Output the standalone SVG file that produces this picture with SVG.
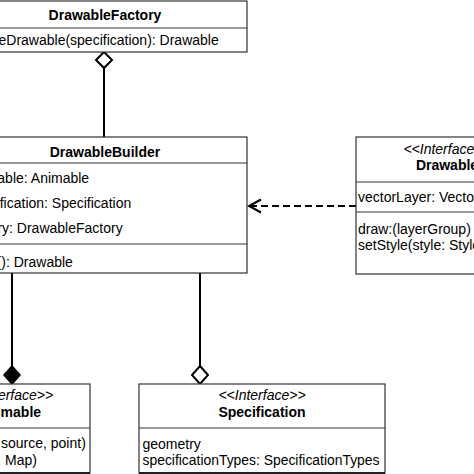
<svg xmlns="http://www.w3.org/2000/svg" width="474" height="474" viewBox="0 0 474 474">
<style>
.box{fill:#fff;stroke:#333;stroke-width:1.2}
.div{stroke:#333;stroke-width:1.2}
.t{font-family:"Liberation Sans",Arial,sans-serif;font-size:14px;fill:#000}
.b{font-weight:bold}
.i{font-style:italic}
.m{text-anchor:middle}
.c{stroke:#000;stroke-width:2;fill:none}
</style>
<rect x="0" y="0" width="474" height="474" fill="#fff"/>
<g id="connectors">
<line class="c" x1="104" y1="68" x2="104" y2="137"/>
<polygon points="104,52 112,60 104,68 96,60" fill="#fff" stroke="#000" stroke-width="2"/>
<line class="c" x1="356" y1="206" x2="250" y2="206" stroke-dasharray="7,4"/>
<polyline class="c" points="261,199.5 249,206 261,212.5"/>
<line class="c" x1="12" y1="273" x2="12" y2="366"/>
<polygon points="12,366 20,375 12,384 4,375" fill="#000" stroke="#000" stroke-width="1.5"/>
<line class="c" x1="200" y1="273" x2="200" y2="366"/>
<polygon points="200,366 208,375 200,384 192,375" fill="#fff" stroke="#000" stroke-width="2"/>
</g>
<g id="DrawableFactory">
<rect class="box" x="-37" y="1" width="284" height="51"/>
<line class="div" x1="-37" y1="28" x2="247" y2="28"/>
<text class="t b m" x="105" y="20">DrawableFactory</text>
<text class="t" x="-1.5" y="45">eDrawable(specification): Drawable</text>
</g>
<g id="DrawableBuilder">
<rect class="box" x="-37" y="137" width="284" height="136"/>
<line class="div" x1="-37" y1="163" x2="247" y2="163"/>
<line class="div" x1="-37" y1="244" x2="247" y2="244"/>
<text class="t b m" x="105" y="157">DrawableBuilder</text>
<text class="t" x="-2.7" y="183">able: Animable</text>
<text class="t" x="-0.3" y="208">fication: Specification</text>
<text class="t" x="-2.6" y="233">ry: DrawableFactory</text>
<text class="t" x="-3.4" y="267">(): Drawable</text>
</g>
<g id="Drawable">
<rect class="box" x="356" y="137" width="182" height="137"/>
<line class="div" x1="356" y1="182" x2="538" y2="182"/>
<line class="div" x1="356" y1="212" x2="538" y2="212"/>
<text class="t i m" x="447" y="154">&lt;&lt;Interface&gt;&gt;</text>
<text class="t b m" x="447" y="170">Drawable</text>
<text class="t" x="358" y="202">vectorLayer: Vecto</text>
<text class="t" x="358" y="234">draw:(layerGroup)</text>
<text class="t" x="358" y="250">setStyle(style: Style</text>
</g>
<g id="Animable">
<rect class="box" x="-71" y="384" width="161" height="89"/>
<line class="div" x1="-71" y1="428" x2="90" y2="428"/>
<line x1="-71" y1="473" x2="90" y2="473" stroke="#222" stroke-width="2"/>
<text class="t i" x="-2.1" y="400">erface&gt;&gt;</text>
<text class="t b" x="0.6" y="417">mable</text>
<text class="t" x="1" y="448">source, point)</text>
<text class="t" x="5" y="465">Map)</text>
</g>
<g id="Specification">
<rect class="box" x="139" y="384" width="246" height="89"/>
<line class="div" x1="139" y1="428" x2="385" y2="428"/>
<line x1="139" y1="473" x2="385" y2="473" stroke="#222" stroke-width="2"/>
<text class="t i m" x="262" y="400">&lt;&lt;Interface&gt;&gt;</text>
<text class="t b m" x="262" y="417">Specification</text>
<text class="t" x="142.5" y="449">geometry</text>
<text class="t" x="142.5" y="465" textLength="237" lengthAdjust="spacingAndGlyphs">specificationTypes: SpecificationTypes</text>
</g>
</svg>
